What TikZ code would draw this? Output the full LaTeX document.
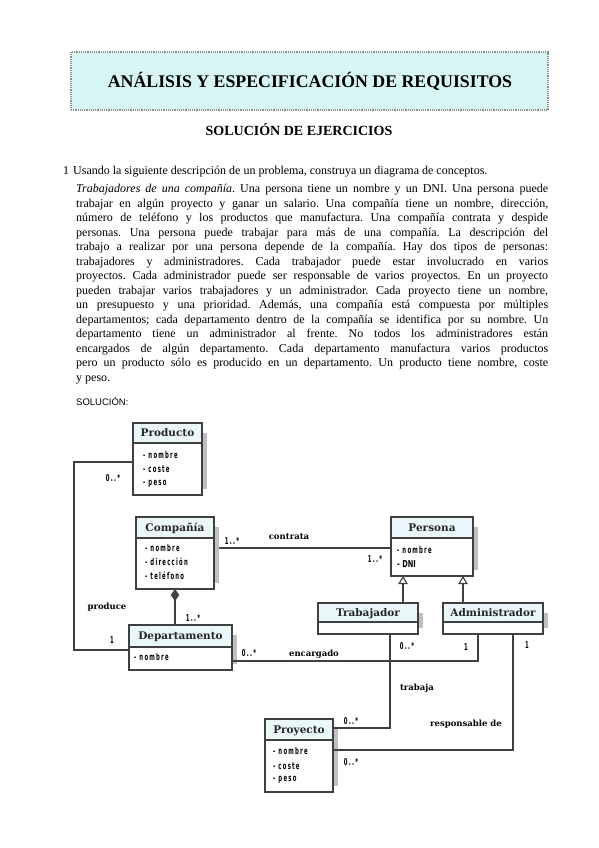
\documentclass[tikz,border=0pt]{standalone}
\usepackage{fontspec}
\usetikzlibrary{arrows.meta,calc}
\setmainfont{Liberation Serif}
\newfontfamily\hdfont{DejaVu Serif}
\newfontfamily\attrfont[FakeStretch=0.56,LetterSpace=13]{DejaVu Sans}
\newfontfamily\dnifont[FakeStretch=0.7]{DejaVu Sans}
\newfontfamily\solfont{Liberation Sans}
\definecolor{titlebg}{RGB}{216,245,245}
\definecolor{titlebd}{RGB}{140,140,140}
\definecolor{hdbg}{RGB}{234,247,248}
\definecolor{shadowc}{RGB}{192,192,192}
\definecolor{linec}{RGB}{64,64,64}
\tikzset{
  boxline/.style={draw=linec, line width=1.1pt},
  conn/.style={draw=linec, line width=1.1pt},
  classbox/.style={fill=white, inner sep=0pt, outer sep=0pt},
  hdtext/.style={font=\hdfont\bfseries\fontsize{10.5}{12}\selectfont, text=black!85, inner sep=0pt, text height=7.6pt, text depth=0pt},
  attrtext/.style={font=\attrfont\bfseries\fontsize{9.5}{11}\selectfont, inner sep=0pt, anchor=base west},
  mult/.style={font=\attrfont\bfseries\fontsize{9.5}{11}\selectfont, inner sep=0pt, text height=6.9pt, text depth=0pt},
  lbl/.style={font=\hdfont\bfseries\fontsize{8.5}{10}\selectfont, inner sep=0pt, text height=4.4pt, text depth=0pt},
}
\newcommand\umlclass[7]{%
  \fill[shadowc] (#4,{#3+10}) rectangle ({#4+5},{#6-6});
  \node[classbox, minimum width={(#4-#2)*1pt}, minimum height={(#6-#3)*1pt}] (#1) at ({(#2+#4)/2},{(#3+#6)/2}) {};
  \fill[hdbg] (#2,#3) rectangle (#4,#5);
  \draw[boxline] (#2,#5) -- (#4,#5);
  \draw[boxline] (#1.north west) rectangle (#1.south east);
  \node[hdtext] (#1-title) at ({(#2+#4)/2},{(#3+#5)/2}) {#7};
}
\begin{document}
\begin{tikzpicture}[x=1pt,y=-1pt]
\useasboundingbox (0,0) rectangle (599,848);
\fill[white] (0,0) rectangle (599,848);

% title box
\node[draw=titlebd, densely dotted, line width=1.2pt, fill=titlebg, minimum width=477pt, minimum height=58pt, inner sep=0pt] (titlebox) at (309.5,81) {};
\node[anchor=base, inner sep=0pt, font=\bfseries\fontsize{17.8}{20}\selectfont] (title) at (310,88) {ANÁLISIS Y ESPECIFICACIÓN DE REQUISITOS};
\node[anchor=base, inner sep=0pt, font=\bfseries\fontsize{14}{16}\selectfont] (subtitle) at (299,135.6) {SOLUCIÓN DE EJERCICIOS};

% question
\node[anchor=base west, inner sep=0pt, font=\fontsize{12}{14.5}\selectfont] (qnum) at (63,174) {1};
\node[anchor=base west, inner sep=0pt, font=\fontsize{12}{14.5}\selectfont] (qtext) at (73,174) {Usando la siguiente descripción de un problema, construya un diagrama de conceptos.};

\node[anchor=north west, inner sep=0pt, text width=472pt, align=justify, font=\fontsize{12}{14.5}\selectfont] (para) at (76,182.5) {\frenchspacing\tolerance=10000\hyphenpenalty=10000\strut\textit{Trabajadores de una compañía}. Una persona tiene un nombre y un DNI. Una persona puede\linebreak
trabajar en algún proyecto y ganar un salario. Una compañía tiene un nombre, dirección,\linebreak
número de teléfono y los productos que manufactura. Una compañía contrata y despide\linebreak
personas. Una persona puede trabajar para más de una compañía. La descripción del\linebreak
trabajo a realizar por una persona depende de la compañía. Hay dos tipos de personas:\linebreak
trabajadores y administradores. Cada trabajador puede estar involucrado en varios\linebreak
proyectos. Cada administrador puede ser responsable de varios proyectos. En un proyecto\linebreak
pueden trabajar varios trabajadores y un administrador. Cada proyecto tiene un nombre,\linebreak
un presupuesto y una prioridad. Además, una compañía está compuesta por múltiples\linebreak
departamentos; cada departamento dentro de la compañía se identifica por su nombre. Un\linebreak
departamento tiene un administrador al frente. No todos los administradores están\linebreak
encargados de algún departamento. Cada departamento manufactura varios productos\linebreak
pero un producto sólo es producido en un departamento. Un producto tiene nombre, coste\linebreak
y peso.};

\node[anchor=base west, inner sep=0pt, font=\solfont\fontsize{9.5}{11}\selectfont] (sol) at (76,405.5) {SOLUCIÓN:};

% classes: name, left, top, right, divider, bottom, title
\umlclass{prod}{133}{423}{202}{443}{495}{Producto}
\umlclass{comp}{136}{517}{214}{538}{589}{Compañía}
\umlclass{pers}{391}{517}{473}{538}{576}{Persona}
\umlclass{trab}{318}{603}{418}{622}{634}{Trabajador}
\umlclass{adm}{443}{603}{543}{622}{634}{Administrador}
\umlclass{dep}{129}{625}{232}{647}{670}{Departamento}
\umlclass{proy}{265}{719}{333}{740}{792}{Proyecto}

% attributes
\node[attrtext] (prod-a1) at (143,458.6) {- nombre};
\node[attrtext] (prod-a2) at (143,472.6) {- coste};
\node[attrtext] (prod-a3) at (143,485.9) {- peso};
\node[attrtext] (comp-a1) at (145,551.8) {- nombre};
\node[attrtext] (comp-a2) at (145,565.8) {- dirección};
\node[attrtext] (comp-a3) at (145,579.8) {- teléfono};
\node[attrtext] (pers-a1) at (397,553.6) {- nombre};
\node[attrtext, font=\dnifont\bfseries\fontsize{9.5}{11}\selectfont] (pers-a2) at (397,567.8) {- DNI};
\node[attrtext] (dep-a1) at (134,660.8) {- nombre};
\node[attrtext] (proy-a1) at (273,754.8) {- nombre};
\node[attrtext] (proy-a2) at (273,769.3) {- coste};
\node[attrtext] (proy-a3) at (273,781.8) {- peso};

% connectors
\draw[conn] ($(prod.north west)+(0,39)$) -- ++(-59,0) |- ($(dep.north west)+(0,25)$);
\draw[conn] ($(comp.north east)+(5,31)$) -- ($(pers.north west)+(0,31)$);
\draw[conn, {Diamond[length=12pt,width=8.5pt]}-] (comp.south) -- (comp.south |- dep.north);
\coordinate (g1) at ($(trab.north west)+(85,0)$);
\coordinate (g2) at ($(adm.north west)+(20,0)$);
\draw[conn, -{Triangle[open,length=8pt,width=9.5pt]}] (g1) -- (g1 |- pers.south);
\draw[conn, -{Triangle[open,length=8pt,width=9.5pt]}] (g2) -- (g2 |- pers.south);
\draw[conn] ($(dep.north east)+(0,36)$) -| ($(adm.south west)+(35,0)$);
\draw[conn] ($(trab.south west)+(72,0)$) |- ($(proy.north east)+(0,9)$);
\draw[conn] ($(adm.south west)+(70,0)$) |- ($(proy.north east)+(0,31)$);

% labels
\node[mult] (m-prod) at (113,478) {0..*};
\node[lbl] (l-produce) at (107,607) {produce};
\node[mult] (m-dep1) at (112,640) {1};
\node[mult] (m-comp) at (232,541) {1..*};
\node[lbl] (l-contrata) at (289,537) {contrata};
\node[mult] (m-pers) at (375,559) {1..*};
\node[mult] (m-comp2) at (193,618) {1..*};
\node[mult] (m-dep2) at (249,653.5) {0..*};
\node[lbl] (l-encargado) at (314,654) {encargado};
\node[mult] (m-trab) at (407,646) {0..*};
\node[mult] (m-adm1) at (466,647) {1};
\node[mult] (m-adm2) at (527,645) {1};
\node[lbl] (l-trabaja) at (417,688) {trabaja};
\node[lbl] (l-resp) at (466,724) {responsable de};
\node[mult] (m-proy1) at (351,721) {0..*};
\node[mult] (m-proy2) at (351,762) {0..*};
\end{tikzpicture}
\end{document}
